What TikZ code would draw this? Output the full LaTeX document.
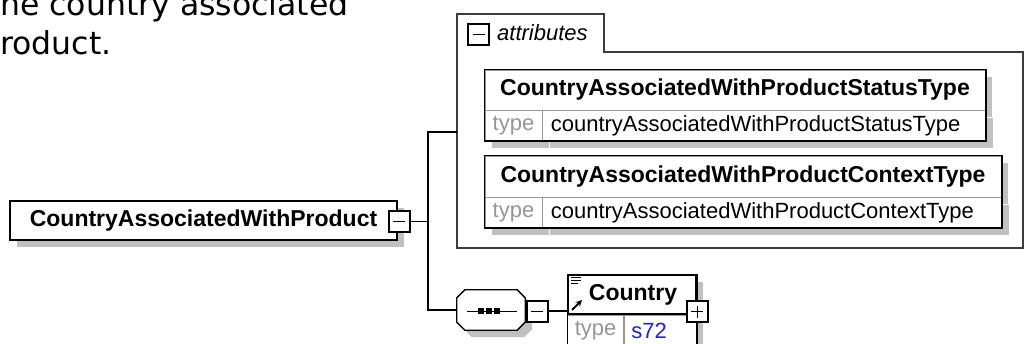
\documentclass[tikz,border=0pt]{standalone}
\usepackage{fontspec}
\setmainfont{Liberation Sans}
\newfontfamily\notefont{DejaVu Sans}
\definecolor{shade}{RGB}{192,192,192}
\definecolor{typegray}{RGB}{150,150,150}
\definecolor{linkblue}{RGB}{30,30,250}
\definecolor{frame}{RGB}{60,60,60}
\tikzset{
  shadowed/.style={preaction={fill=shade, transform canvas={shift={(7,7)}}}},
  elem/.style={draw, line width=1.5pt, fill=white, inner sep=0pt, shadowed, font=\fontsize{23}{26}\selectfont\bfseries},
  cellhead/.style={draw=typegray, line width=0.8pt, fill=white, inner sep=0pt, shadowed, font=\fontsize{23}{26}\selectfont\bfseries},
  typecell/.style={draw=typegray, line width=0.8pt, fill=white, inner sep=0pt, shadowed, text=typegray, font=\fontsize{22}{24}\selectfont},
  valcell/.style={draw=typegray, line width=0.8pt, fill=white, inner sep=0pt, shadowed, align=left, text width=#1, font=\fontsize{22}{24}\selectfont},
  outline/.style={draw, line width=1.5pt},
  pmline/.style={line width=1pt},
  pm/.style={draw, line width=2pt, fill=white, inner sep=0pt, minimum size=21pt,
    path picture={\draw[pmline] ([xshift=-6pt]path picture bounding box.center) -- ([xshift=6pt]path picture bounding box.center);}},
  plus/.style={draw, line width=2pt, fill=white, inner sep=0pt, minimum size=21pt,
    path picture={\draw[pmline] ([xshift=-6pt]path picture bounding box.center) -- ([xshift=6pt]path picture bounding box.center);
      \draw[pmline] ([yshift=-6pt]path picture bounding box.center) -- ([yshift=6pt]path picture bounding box.center);}},
  conn/.style={line width=1.4pt},
  note/.style={anchor=base west, inner sep=0pt, font=\notefont\fontsize{31.5}{38}\selectfont}
}
\begin{document}
\begin{tikzpicture}[x=1pt, y=-1pt]
  \clip (0,0) rectangle (1024,343);
  \fill[white] (0,0) rectangle (1024,343);

  % documentation text, cut at the left
  \node[note] (note1) at (0,15) {he country associated};
  \node[note] (note2) at (0,54) {roduct.};

  % root element
  \node[elem, minimum width=387, minimum height=39] (root) at (203.5,220.5) {CountryAssociatedWithProduct};
  \node[pm] (rootmin) at (399,221.5) {};

  % attributes group
  \draw[frame, line width=1.5pt] (457,248) -- (457,14) -- (604,14) -- (604,52) -- (1023,52) -- (1023,248) -- cycle;
  \node[pm] (attrmin) at (478.5,34.5) {};
  \node[anchor=west, inner sep=0pt, font=\fontsize{22}{24}\selectfont\itshape] (attrlabel) at (497,33) {attributes};
  \coordinate (attrs) at (457,132);

  % StatusType attribute
  \node[cellhead, minimum width=500, minimum height=40] (sthead) at (735,90) {CountryAssociatedWithProductStatusType};
  \node[typecell, minimum width=57, minimum height=30, anchor=north west] (sttype) at (sthead.south west) {type};
  \node[valcell=443pt, minimum height=30, anchor=north west] (stval) at (sttype.north east) {\hspace{8pt}countryAssociatedWithProductStatusType};
  \draw[outline] (sthead.north west) rectangle (stval.south east);

  % ContextType attribute
  \node[cellhead, minimum width=516, minimum height=41] (cthead) at (743,176.5) {CountryAssociatedWithProductContextType};
  \node[typecell, minimum width=57, minimum height=30, anchor=north west] (cttype) at (cthead.south west) {type};
  \node[valcell=459pt, minimum height=30, anchor=north west] (ctval) at (cttype.north east) {\hspace{8pt}countryAssociatedWithProductContextType};
  \draw[outline] (cthead.north west) rectangle (ctval.south east);

  % sequence compositor
  \node[minimum width=68, minimum height=40, inner sep=0pt] (seq) at (491,310) {};
  \draw[line width=1.3pt, fill=white, shadowed] ([shift={(8,0)}]seq.north west) -- ([shift={(-8,0)}]seq.north east) -- ([shift={(0,8)}]seq.north east) -- ([shift={(0,-8)}]seq.south east) -- ([shift={(-8,0)}]seq.south east) -- ([shift={(8,0)}]seq.south west) -- ([shift={(0,-8)}]seq.south west) -- ([shift={(0,8)}]seq.north west) -- cycle;
  \draw[line width=1pt] (467,311) -- (517,311);
  \foreach \dx in {481,489,497}
    \fill (\dx-3,308) rectangle (\dx+3,314);
  \node[pm] (seqmin) at (537,311) {};

  % Country element
  \node[elem, minimum width=128, minimum height=39] (ctyhead) at (632,294.5) {\hspace{2pt}Country};
  \node[typecell, minimum width=56, minimum height=32, anchor=north west] (ctytype) at (ctyhead.south west) {type};
  \node[valcell=72pt, minimum height=32, anchor=north west, text=linkblue] (ctyval) at (ctytype.north east) {\hspace{7pt}s72};
  \draw[outline] (ctyhead.north west) rectangle (ctyval.south east);
  \foreach \yy/\len in {277.5/10,280.5/10,283.5/7}
    \draw[line width=1pt] (571,\yy) -- (571+\len,\yy);
  \draw[line width=1.8pt, -stealth] (572,310) -- (582,300);
  \node[plus] (ctyplus) at (697,311.5) {};

  % connectors
  \coordinate (fork) at (428,221.5);
  \draw[conn] (rootmin) -- (fork);
  \draw[conn] (attrs) -| (fork) |- (seq.west);
  \draw[conn] (seqmin) -- (seqmin -| ctyhead.west);
\end{tikzpicture}
\end{document}
